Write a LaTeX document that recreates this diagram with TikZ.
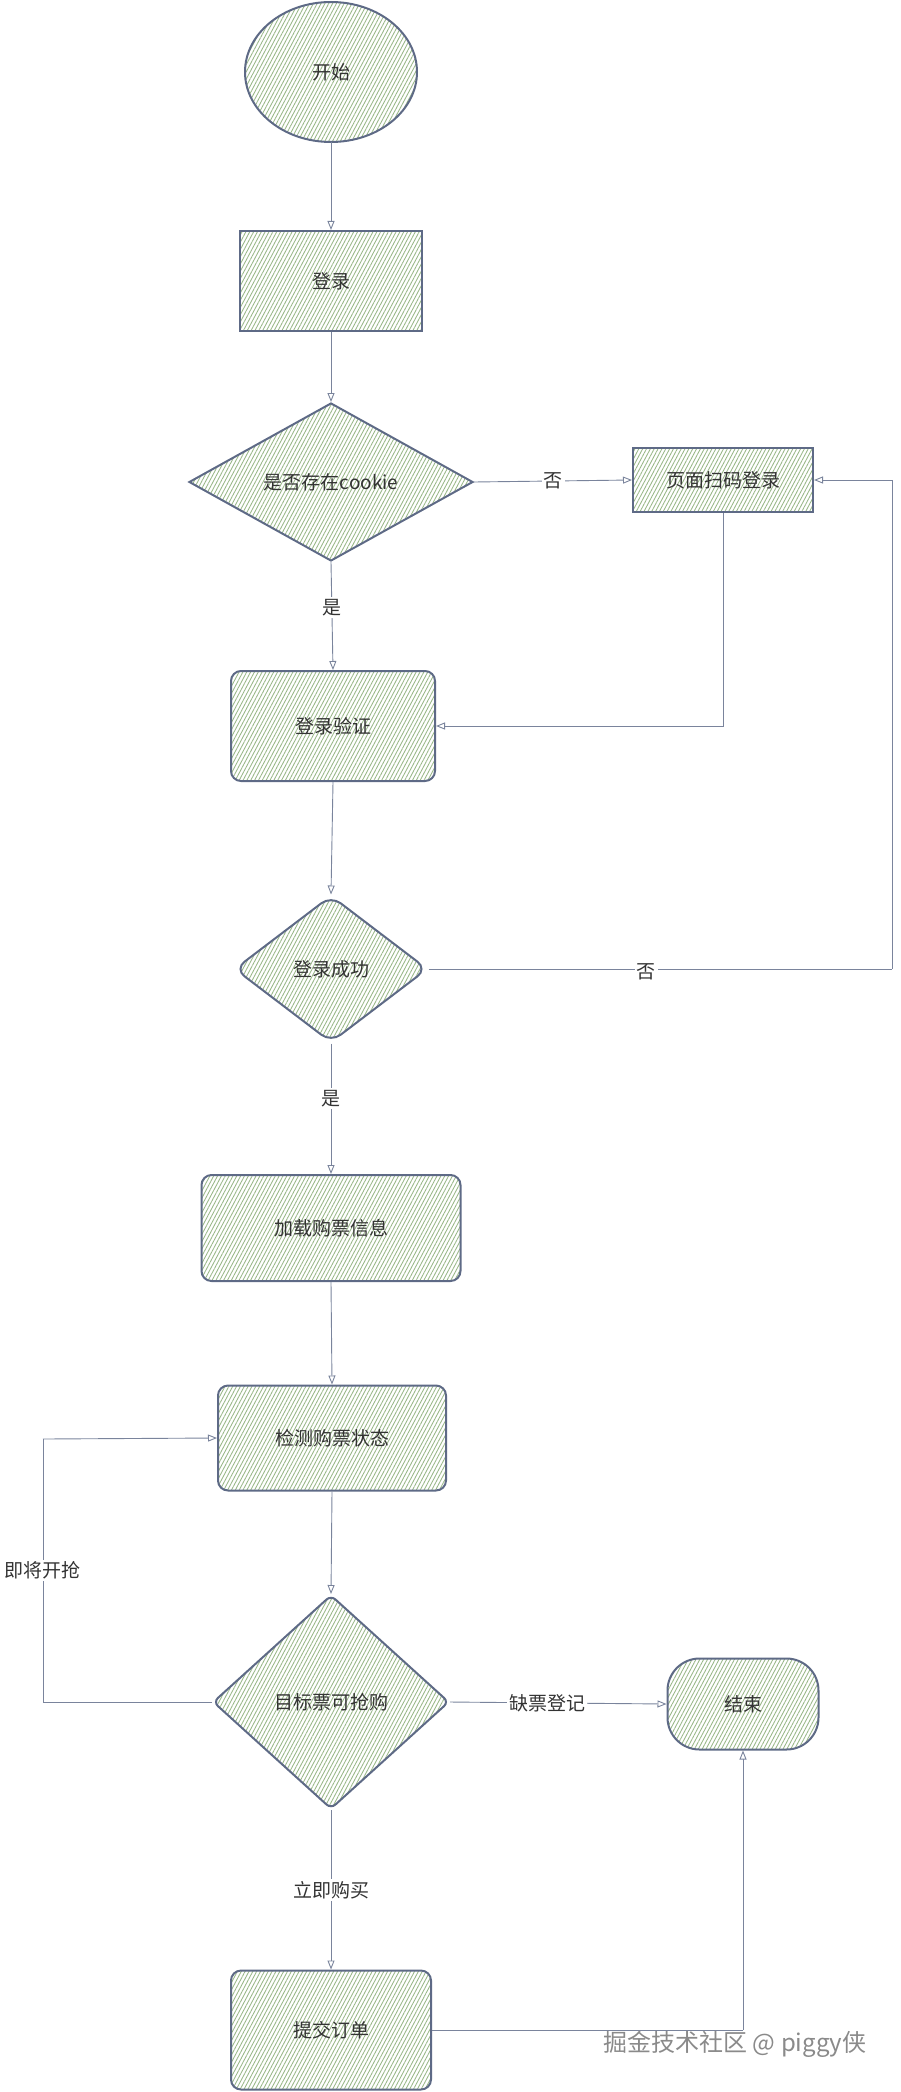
\documentclass[tikz,border=0pt]{standalone}
\usepackage{fontspec}
\setmainfont{Noto Sans CJK SC}
\usetikzlibrary{shapes.geometric,patterns.meta,arrows.meta}
\definecolor{edgec}{HTML}{5E6A86}
\definecolor{linec}{HTML}{7A849C}
\definecolor{hatch}{HTML}{98B787}
\definecolor{txt}{HTML}{333333}
\definecolor{wm}{HTML}{8A8A8A}
\begin{document}
\begin{tikzpicture}[x=1pt,y=-1pt,
  shp/.style={draw=edgec,line width=2pt,preaction={fill=white},
    pattern={Lines[angle=62,distance=3.4pt,line width=0.85pt]},pattern color=hatch,
    font=\fontsize{19}{22}\selectfont,text=txt,inner sep=0pt},
  sqbox/.style={shp,rectangle},
  rbox/.style={shp,rectangle,rounded corners=10pt},
  dia/.style={shp,diamond},
  conn/.style={draw=linec,line width=0.9pt,-{Triangle[open,length=9pt,width=7pt]}},
  plain/.style={draw=linec,line width=0.9pt},
  lbl/.style={fill=white,font=\fontsize{19}{22}\selectfont,text=txt,inner sep=2pt}
]
\useasboundingbox (0,0) rectangle (901,2092);

% nodes
\node[shp,ellipse,minimum width=172pt,minimum height=140pt] (start) at (331,72) {开始};
\node[sqbox,minimum width=182pt,minimum height=100pt] (login) at (331,281) {登录};
\node[dia,minimum width=284pt,minimum height=158pt] (cookie) at (331,482) {是否存在cookie};
\node[sqbox,minimum width=180pt,minimum height=64pt] (qr) at (723,480) {页面扫码登录};
\node[rbox,minimum width=204pt,minimum height=110pt] (verify) at (333,726) {登录验证};
\node[dia,rounded corners=12pt,minimum width=193pt,minimum height=147pt] (ok) at (331,969) {登录成功};
\node[rbox,minimum width=259pt,minimum height=106pt] (load) at (331,1228) {加载购票信息};
\node[rbox,minimum width=228pt,minimum height=105pt] (check) at (332,1438) {检测购票状态};
\node[dia,rounded corners=6pt,minimum width=236pt,minimum height=214pt] (target) at (331,1702) {目标票可抢购};
\node[shp,rectangle,rounded corners=32pt,minimum width=151pt,minimum height=91pt] (end) at (743,1704) {结束};
\node[rbox,minimum width=200pt,minimum height=119pt] (submit) at (331,2030) {提交订单};

% helper coordinates
\coordinate (rt) at (892,969);
\coordinate (lt) at (43,1702);
\coordinate (lb) at (43,1439);
\coordinate (sb) at (743,2030);

% connectors
\draw[conn] (start.south) -- (login.north);
\draw[conn] (login.south) -- (cookie.north);
\draw[conn] (cookie.east) -- node[lbl]{否} (qr.west);
\draw[conn] (cookie.south) -- node[lbl,pos=0.42]{是} (verify.north);
\draw[conn] (qr.south) |- (verify.east);
\draw[conn] (verify.south) -- (ok.north);
\draw[plain] (ok.east) -- node[lbl,pos=0.47,yshift=-3pt]{否} (rt);
\draw[conn] (rt) |- (qr.east);
\draw[conn] (ok.south) -- node[lbl,pos=0.42]{是} (load.north);
\draw[conn] (load.south) -- (check.north);
\draw[conn] (check.south) -- (target.north);
\draw[plain] (target.west) -- (lt);
\draw[plain] (lt) -- node[lbl,pos=0.5]{即将开抢} (lb);
\draw[conn] (lb) -- (check.west);
\draw[conn] (target.east) -- node[lbl,pos=0.45]{缺票登记} (end.west);
\draw[conn] (target.south) -- node[lbl,pos=0.5]{立即购买} (submit.north);
\draw[plain] (submit.east) -- (sb);
\draw[conn] (sb) -- (end.south);

% watermark
\node[font=\fontsize{24}{28}\selectfont,text=wm,anchor=center] (wmk) at (735,2044) {掘金技术社区 @ piggy侠};
\end{tikzpicture}
\end{document}
